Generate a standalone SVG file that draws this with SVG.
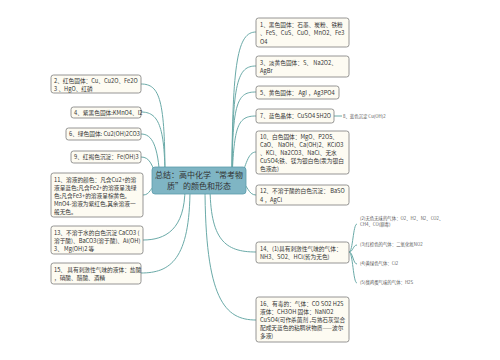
<svg xmlns="http://www.w3.org/2000/svg" width="500" height="360" viewBox="0 0 500 360">
<style>
.n{fill:#fdfbf2;stroke:#7c7c7c;stroke-width:0.8}
.t{font-family:"Noto Sans CJK SC","Liberation Sans",sans-serif;font-size:5.7px;fill:#333}
.s{font-family:"Noto Sans CJK SC","Liberation Sans",sans-serif;font-size:4.4px;fill:#555}
.c{fill:none;stroke:#6aaaa8;stroke-width:1}
.ct{font-family:"Noto Sans CJK SC","Liberation Sans",sans-serif;font-size:8px;fill:#333;text-anchor:middle}
</style>
<rect width="500" height="360" fill="#fff"/>
<g id="connectors">
<path class="c" d="M232 180 C232 60 238 32 256 32"/>
<path class="c" d="M232 180 C232 80 238 66 256 66"/>
<path class="c" d="M232 180 C232 100 238 92 256 92"/>
<path class="c" d="M232 180 C234 125 238 116 256 116"/>
<path class="c" d="M334 116 L342 116"/>
<path class="c" d="M240 180 C246 165 248 152 256 152"/>
<path class="c" d="M240 180 C248 185 248 195 256 195"/>
<path class="c" d="M210 185 C210 240 225 252 256 252"/>
<path class="c" d="M205 185 C205 300 225 320 256 320"/>
<path class="c" d="M165 180 C165 100 160 84 141 84"/>
<path class="c" d="M165 180 C165 125 158 112 141 112"/>
<path class="c" d="M160 180 C158 145 152 134 141 134"/>
<path class="c" d="M158 180 C152 165 150 157 141 157"/>
<path class="c" d="M158 182 C150 188 150 195 143 195"/>
<path class="c" d="M185 188 C185 230 165 240 143 240"/>
<path class="c" d="M190 188 C190 260 170 273 141 273"/>
<path class="c" d="M349 252 C353 252 353 224 357 224"/>
<path class="c" d="M349 252 C353 252 353 245 357 245"/>
<path class="c" d="M349 252 C353 252 353 264 357 264"/>
<path class="c" d="M349 252 C353 252 353 283 357 283"/>
</g>
<g id="center">
<rect x="152" y="167" width="94" height="27" rx="3" fill="#7fb5c4" stroke="#5b9cab" stroke-width="0.8"/>
<text class="ct" x="199" y="178">总结：高中化学“常考物</text>
<text class="ct" x="199" y="189">质”的颜色和形态</text>
</g>
<g id="n1"><rect class="n" x="256" y="18" width="93" height="29" rx="2.5"/>
<text class="t" x="260" y="26.5">1、黑色固体：石墨、炭粉、铁粉</text>
<text class="t" x="260" y="35">、FeS、CuS、CuO、MnO2、Fe3</text>
<text class="t" x="260" y="43.5">O4</text></g>
<g id="n3"><rect class="n" x="256" y="56" width="93" height="21" rx="2.5"/>
<text class="t" x="260" y="64.5">3、淡黄色固体：S、 Na2O2、</text>
<text class="t" x="260" y="73">AgBr</text></g>
<g id="n5"><rect class="n" x="256" y="86" width="83" height="13" rx="2.5"/>
<text class="t" x="260" y="94.5">5、黄色固体： AgI ，Ag3PO4</text></g>
<g id="n7"><rect class="n" x="256" y="109" width="78" height="14" rx="2.5"/>
<text class="t" x="260" y="118">7、蓝色晶体：CuSO4 5H2O</text></g>
<g id="n8"><text class="s" x="343" y="117.5">8、蓝色沉淀 Cu(OH)2</text></g>
<g id="n10"><rect class="n" x="256" y="131" width="93" height="43" rx="2.5"/>
<text class="t" x="260" y="139">10、白色固体：MgO、P2O5、</text>
<text class="t" x="260" y="147">CaO、 NaOH、Ca(OH)2、KClO3</text>
<text class="t" x="260" y="155">、KCl、Na2CO3、NaCl、无水</text>
<text class="t" x="260" y="163">CuSO4;铁、镁为银白色(汞为银白</text>
<text class="t" x="260" y="171">色液态)</text></g>
<g id="n12"><rect class="n" x="256" y="185" width="93" height="20" rx="2.5"/>
<text class="t" x="260" y="193">12、不溶于酸的白色沉淀： BaSO</text>
<text class="t" x="260" y="201.5">4 ，AgCl</text></g>
<g id="n14"><rect class="n" x="256" y="242" width="93" height="21" rx="2.5"/>
<text class="t" x="260" y="250.5">14、(1)具有刺激性气味的气体：</text>
<text class="t" x="260" y="259">NH3、SO2、HCl(皆为无色)</text></g>
<g id="n14a"><text class="s" x="360" y="220">(2)无色无味的气体：O2、H2、N2、CO2、</text>
<text class="s" x="360" y="225.5">CH4、CO(剧毒)</text></g>
<g id="n14b"><text class="s" x="360" y="246">(3)红棕色的气体：二氧化氮NO2</text></g>
<g id="n14c"><text class="s" x="360" y="265">(4)黄绿色气体：Cl2</text></g>
<g id="n14d"><text class="s" x="360" y="284">(5)臭鸡蛋气味的气体：H2S</text></g>
<g id="n16"><rect class="n" x="256" y="297" width="93" height="45" rx="2.5"/>
<text class="t" x="260" y="305.5">16、有毒的：气体：CO SO2 H2S</text>
<text class="t" x="260" y="313.5">液体：CH3OH 固体：NaNO2</text>
<text class="t" x="260" y="321.5">CuSO4(可作杀菌剂 ,与熟石灰混合</text>
<text class="t" x="260" y="329.5">配成天蓝色的粘稠状物质——波尔</text>
<text class="t" x="260" y="337.5">多液)</text></g>
<g id="n2"><rect class="n" x="51" y="75" width="90" height="18" rx="2.5"/>
<text class="t" x="54" y="82.5">2、红色固体：Cu、Cu2O、Fe2O</text>
<text class="t" x="54" y="90.5">3 、HgO、红磷</text></g>
<g id="n4"><rect class="n" x="71" y="107" width="70" height="11" rx="2.5"/>
<text class="t" x="74" y="114.8">4、紫黑色固体:KMnO4、I2</text></g>
<g id="n6"><rect class="n" x="66" y="128" width="75" height="12" rx="2.5"/>
<text class="t" x="69" y="136.3">6、绿色固体: Cu2(OH)2CO3</text></g>
<g id="n9"><rect class="n" x="71" y="151" width="70" height="12" rx="2.5"/>
<text class="t" x="74" y="159.3">9、红褐色沉淀：Fe(OH)3</text></g>
<g id="n11"><rect class="n" x="51" y="173" width="92" height="44" rx="2.5"/>
<text class="t" x="54" y="181.5">11、溶液的颜色：凡含Cu2+的溶</text>
<text class="t" x="54" y="189.5">液呈蓝色;凡含Fe2+的溶液呈浅绿</text>
<text class="t" x="54" y="197.5">色;凡含Fe3+的溶液呈棕黄色,</text>
<text class="t" x="54" y="205.5">MnO4-溶液为紫红色,其余溶液一</text>
<text class="t" x="54" y="213.5">般无色。</text></g>
<g id="n13"><rect class="n" x="51" y="226" width="92" height="28" rx="2.5"/>
<text class="t" x="54" y="234.5">13、不溶于水的白色沉淀 CaCO3 (</text>
<text class="t" x="54" y="242.5">溶于酸)、BaCO3(溶于酸)、Al(OH)</text>
<text class="t" x="54" y="250.5">3、 Mg(OH)2 等</text></g>
<g id="n15"><rect class="n" x="51" y="263" width="90" height="21" rx="2.5"/>
<text class="t" x="54" y="271.5">15、 具有刺激性气味的液体：盐酸</text>
<text class="t" x="54" y="280">，硝酸、醋酸、酒精</text></g>
</svg>
